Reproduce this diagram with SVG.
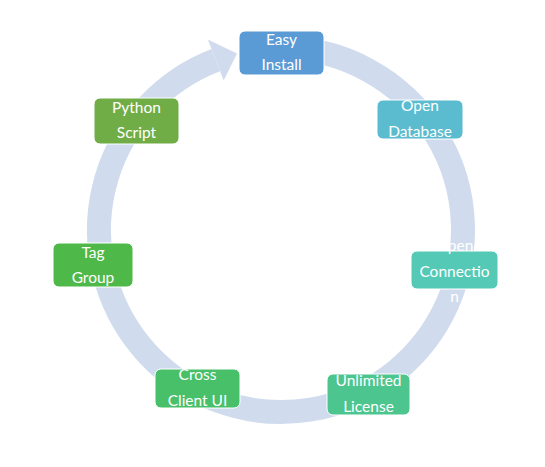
<svg xmlns="http://www.w3.org/2000/svg" width="545" height="467" viewBox="0 0 545 467">
<style>
.box{stroke:#ffffff;stroke-width:1}
.t{font-family:Lato,"Open Sans","Liberation Sans",sans-serif;font-size:15.5px;fill:#ffffff;text-anchor:middle}
.ring{fill:none;stroke:#D0DCEE;stroke-width:24}
</style>
<rect width="545" height="467" fill="#ffffff"/>
<g id="connectors">
<path class="ring" d="M287.35,48.11 A182,182 0 1 1 215.77,60.09"/>
<polygon points="207.89,39.55 236.97,53.41 223.66,80.62" fill="#D0DCEE"/>
</g>
<g id="easy-install">
<rect class="box" x="239" y="31" width="85" height="44" rx="6" fill="#5B9BD5"/>
<text class="t" x="281.5" y="45">Easy</text>
<text class="t" x="281.5" y="70">Install</text>
</g>
<g id="open-database">
<rect class="box" x="377" y="100" width="86" height="39" rx="6" fill="#5BBCCF"/>
<text class="t" x="420" y="111">Open</text>
<text class="t" x="420" y="137">Database</text>
</g>
<g id="open-connection">
<rect class="box" x="411" y="251" width="87" height="38" rx="6" fill="#54C9B6"/>
<text class="t" x="454.5" y="251">Open</text>
<text class="t" x="454.5" y="277">Connectio</text>
<text class="t" x="454.5" y="302">n</text>
</g>
<g id="unlimited-license">
<rect class="box" x="327" y="374" width="83" height="41" rx="6" fill="#4DC58F"/>
<text class="t" x="368.5" y="386">Unlimited</text>
<text class="t" x="368.5" y="412">License</text>
</g>
<g id="cross-client-ui">
<rect class="box" x="155" y="369" width="85" height="39" rx="6" fill="#48BF69"/>
<text class="t" x="197.5" y="380">Cross</text>
<text class="t" x="197.5" y="406">Client UI</text>
</g>
<g id="tag-group">
<rect class="box" x="53" y="243" width="80" height="44" rx="6" fill="#4EB849"/>
<text class="t" x="93" y="258">Tag</text>
<text class="t" x="93" y="283">Group</text>
</g>
<g id="python-script">
<rect class="box" x="94" y="98" width="85" height="46" rx="6" fill="#70AD47"/>
<text class="t" x="136.5" y="113">Python</text>
<text class="t" x="136.5" y="138">Script</text>
</g>
</svg>
